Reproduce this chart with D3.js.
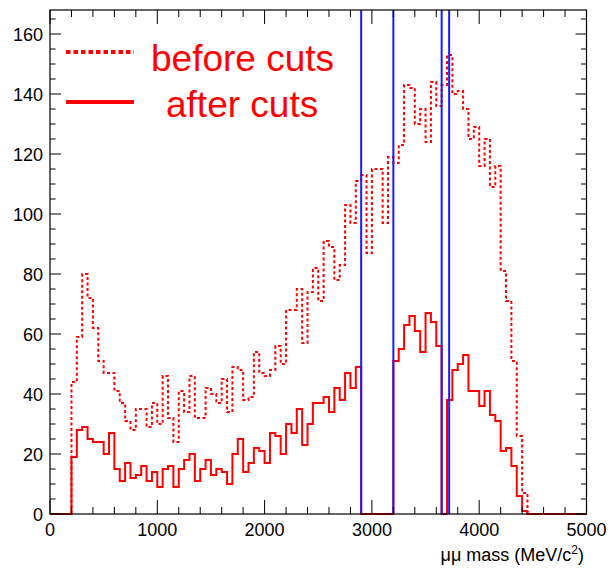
<!DOCTYPE html>
<html>
<head>
<meta charset="utf-8">
<script src="https://cdn.jsdelivr.net/npm/d3@7"></script>
<style>
  html, body { margin: 0; padding: 0; background: #fff; }
  svg { display: block; }
  text { font-family: "Liberation Sans", Arial, Helvetica, sans-serif; }
</style>
</head>
<body>
<svg id="chart" width="610" height="568"></svg>
<script>
// ---- data (bins of 50 MeV/c^2 from 0 to 5000) ----
const binWidth = 50;
const beforeCuts = [
  0, 0, 0, 0, 44, 59, 80, 72, 62, 51,
  47, 47, 41, 37, 31, 28, 35, 35, 29, 37,
  30, 46, 32, 24, 41, 34, 46, 32, 32, 42,
  40, 37, 45, 34, 49, 48, 38, 39, 54, 47,
  46, 48, 56, 50, 68, 68, 75, 57, 74, 82,
  71, 91, 89, 78, 83, 103, 97, 111, 113, 87,
  115, 115, 97, 119, 117, 123, 143, 142, 130, 135,
  124, 144, 136, 143, 153, 140, 141, 135, 125, 129,
  116, 125, 109, 116, 81, 71, 51, 26, 7, 0,
  0, 0, 0, 0, 0, 0, 0, 0, 0, 0
];
const afterCuts = [
  0, 0, 0, 0, 19, 28, 29, 25, 24, 24,
  20, 27, 15, 11, 17, 12, 13, 16, 11, 14,
  9, 15, 16, 9, 15, 18, 20, 11, 15, 18,
  13, 15, 14, 10, 20, 25, 14, 17, 22, 21,
  17, 27, 26, 20, 30, 27, 35, 23, 30, 37,
  37, 39, 34, 42, 38, 47, 42, 49, 0, 0,
  0, 0, 0, 0, 51, 55, 63, 66, 61, 54,
  67, 64, 56, 0, 38, 48, 50, 53, 41, 41,
  36, 41, 33, 31, 21, 22, 16, 6, 1, 0,
  0, 0, 0, 0, 0, 0, 0, 0, 0, 0
];
const cutLines = [2900, 3200, 3650, 3720];
const xTicks = [0, 1000, 2000, 3000, 4000, 5000];
const yTicks = [0, 20, 40, 60, 80, 100, 120, 140, 160];
const legendLabels = ["before cuts", "after cuts"];

// ---- layout ----
const svg = d3.select("#chart");
const L = 50, R = 586.5, T = 10, B = 514;
const x = d3.scaleLinear().domain([0, 5000]).range([L, R]);
const y = d3.scaleLinear().domain([0, 168]).range([B, T]);

function histPoints(vals) {
  const pts = vals.map((v, i) => [i * binWidth, v]);
  pts.push([vals.length * binWidth, vals[vals.length - 1]]);
  return pts;
}
const line = d3.line().x(d => x(d[0])).y(d => y(d[1])).curve(d3.curveStepAfter);

// histograms
svg.append("path").datum(histPoints(beforeCuts))
  .attr("d", line).attr("fill", "none")
  .attr("stroke", "#ff0000").attr("stroke-width", 2)
  .attr("stroke-dasharray", "3,2.5");
svg.append("path").datum(histPoints(afterCuts))
  .attr("d", line).attr("fill", "none")
  .attr("stroke", "#ff0000").attr("stroke-width", 2);

// cut lines
svg.selectAll("line.cut").data(cutLines).enter().append("line")
  .attr("class", "cut")
  .attr("x1", d => x(d)).attr("x2", d => x(d))
  .attr("y1", y(0)).attr("y2", y(168))
  .attr("stroke", "#1a1aff").attr("stroke-width", 2);

// frame
svg.append("rect").attr("x", L).attr("y", T).attr("width", R - L).attr("height", B - T)
  .attr("fill", "none").attr("stroke", "#000").attr("stroke-width", 1.2);

// ticks (inward on all four sides)
const ticksG = svg.append("g").attr("stroke", "#000").attr("stroke-width", 1);
const xMinor = d3.range(0, 5001, 200);
xMinor.forEach(v => {
  const major = v % 1000 === 0;
  const len = major ? 14 : 7;
  ticksG.append("line").attr("x1", x(v)).attr("x2", x(v)).attr("y1", B).attr("y2", B - len);
  ticksG.append("line").attr("x1", x(v)).attr("x2", x(v)).attr("y1", T).attr("y2", T + len);
});
const yMinor = d3.range(0, 168, 5);
yMinor.forEach(v => {
  const major = v % 20 === 0;
  const len = major ? 11 : 5.5;
  ticksG.append("line").attr("x1", L).attr("x2", L + len).attr("y1", y(v)).attr("y2", y(v));
  ticksG.append("line").attr("x1", R).attr("x2", R - len).attr("y1", y(v)).attr("y2", y(v));
});

// tick labels
svg.selectAll("text.xl").data(xTicks).enter().append("text")
  .attr("class", "xl")
  .attr("x", d => x(d)).attr("y", 536)
  .attr("text-anchor", "middle").attr("font-size", 18).attr("fill", "#000")
  .text(d => d);
svg.selectAll("text.yl").data(yTicks).enter().append("text")
  .attr("class", "yl")
  .attr("x", 43).attr("y", d => y(d) + 6.5)
  .attr("text-anchor", "end").attr("font-size", 18).attr("fill", "#000")
  .text(d => d);

// axis title
const title = svg.append("text").attr("x", 584).attr("y", 561)
  .attr("text-anchor", "end").attr("font-size", 18).attr("fill", "#000");
title.append("tspan").text("\u03bc\u03bc mass (MeV/c");
title.append("tspan").attr("dy", -7).attr("font-size", 12).text("2");
title.append("tspan").attr("dy", 7).text(")");

// legend
const leg = svg.append("g");
leg.append("line").attr("x1", 66).attr("x2", 134).attr("y1", 52).attr("y2", 52)
  .attr("stroke", "#ff0000").attr("stroke-width", 4).attr("stroke-dasharray", "4.5,3");
leg.append("line").attr("x1", 66).attr("x2", 134).attr("y1", 102).attr("y2", 102)
  .attr("stroke", "#ff0000").attr("stroke-width", 4);
leg.append("text").attr("x", 151).attr("y", 71).attr("font-size", 37).attr("fill", "#ff0000")
  .text(legendLabels[0]);
leg.append("text").attr("x", 166).attr("y", 117).attr("font-size", 37).attr("fill", "#ff0000")
  .text(legendLabels[1]);
</script>
</body>
</html>
